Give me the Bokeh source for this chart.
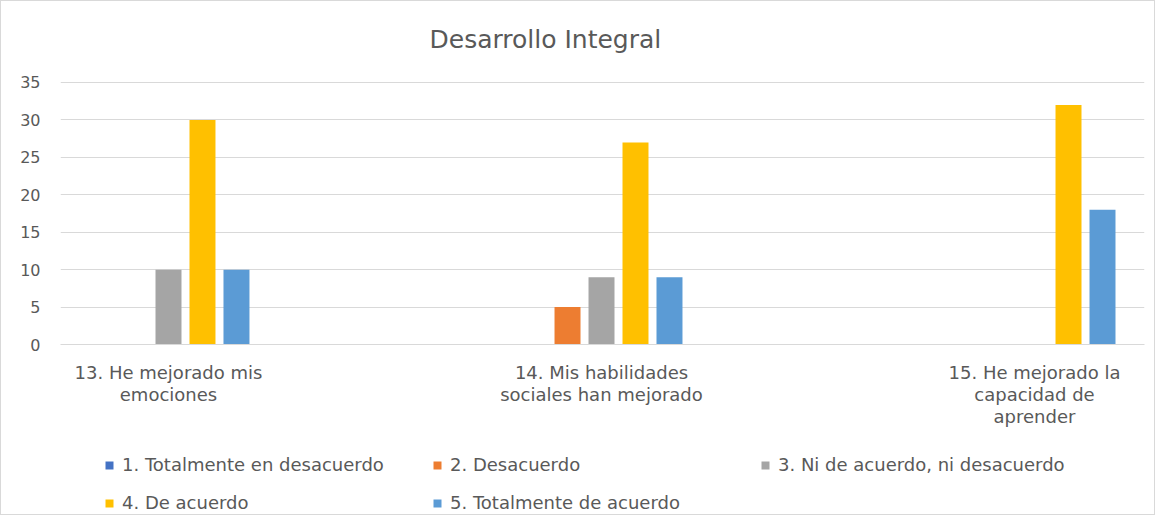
import numpy as np
from bokeh.plotting import figure
from bokeh.layouts import column
from bokeh.models import Range1d, FixedTicker, Legend, LegendItem
from bokeh.embed import file_html
from bokeh.resources import INLINE

title = "Desarrollo Integral"
categories = [
    "13. He mejorado mis\nemociones",
    "14. Mis habilidades\nsociales han mejorado",
    "15. He mejorado la\ncapacidad de\naprender",
]
series_names = [
    "1. Totalmente en desacuerdo",
    "2. Desacuerdo",
    "3. Ni de acuerdo, ni desacuerdo",
    "4. De acuerdo",
    "5. Totalmente de acuerdo",
]
s1_totalmente_desacuerdo = [0, 0, 0]
s2_desacuerdo = [0, 5, 0]
s3_ni_ni = [10, 9, 0]
s4_de_acuerdo = [30, 27, 32]
s5_totalmente_acuerdo = [10, 9, 18]
colors = ["#4472C4", "#ED7D31", "#A5A5A5", "#FFC000", "#5B9BD5"]
y_ticks = [0, 5, 10, 15, 20, 25, 30, 35]

FONT = "DejaVu Sans"
TXT = "#595959"
W = 1153
H1 = 441
H2 = 72

# ---------------- main chart ----------------
p = figure(
    width=W, height=H1,
    x_range=Range1d(-0.2494, 2.254), y_range=Range1d(0, 35 + 7 / 7.486),
    output_backend="svg", toolbar_location=None,
    min_border_left=59, min_border_right=10, min_border_top=74, min_border_bottom=H1 - 343,
)
p.outline_line_color = None
p.background_fill_color = "white"
p.border_fill_color = "white"

series = [s1_totalmente_desacuerdo, s2_desacuerdo, s3_ni_ni, s4_de_acuerdo, s5_totalmente_acuerdo]
cat_pos = np.arange(len(categories), dtype=float)
pitch = 0.0785
bar_w = 0.06
for k, vals in enumerate(series):
    xs = cat_pos + (k - 2) * pitch
    p.vbar(x=xs, top=vals, width=bar_w, fill_color=colors[k], line_color=None)

# title
p.title.text = title
p.title.align = "left"
p.title.offset = 369
p.title.standoff = 43
p.title.text_font = FONT
p.title.text_font_size = "25px"
p.title.text_font_style = "normal"
p.title.text_color = TXT

# axes
p.xgrid.grid_line_color = None
p.ygrid.grid_line_color = "#d9d9d9"
p.ygrid.grid_line_width = 1
p.yaxis.ticker = FixedTicker(ticks=y_ticks)
p.yaxis.axis_line_color = None
p.yaxis.major_tick_line_color = None
p.yaxis.major_tick_out = 0
p.yaxis.minor_tick_line_color = None
p.yaxis.minor_tick_out = 0
p.yaxis.major_label_standoff = 20
p.yaxis.major_label_text_font = FONT
p.yaxis.major_label_text_font_size = "16px"
p.yaxis.major_label_text_color = TXT

p.xaxis.ticker = FixedTicker(ticks=list(cat_pos))
p.xaxis.major_label_overrides = {float(i): c for i, c in enumerate(categories)}
p.xaxis.axis_line_color = "#d9d9d9"
p.xaxis.major_tick_line_color = None
p.xaxis.major_tick_out = 0
p.xaxis.minor_tick_line_color = None
p.xaxis.minor_tick_out = 0
p.xaxis.major_label_standoff = 17
p.xaxis.major_label_text_font = FONT
p.xaxis.major_label_text_font_size = "18px"
p.xaxis.major_label_text_line_height = 1.05
p.xaxis.major_label_text_color = TXT

# ---------------- legend strip ----------------
lf = figure(
    width=W, height=H2, x_range=Range1d(0, W), y_range=Range1d(0, H2),
    output_backend="svg", toolbar_location=None,
    min_border_left=0, min_border_right=0, min_border_top=0, min_border_bottom=0,
)
lf.axis.visible = False
lf.grid.visible = False
lf.outline_line_color = None
lf.background_fill_color = "white"
lf.border_fill_color = "white"
# legend swatches only (zero-height, outside the visible range)
proxies = [lf.vbar(x=[-1000], top=[0], width=1, fill_color=colors[k], line_color=None) for k in range(5)]

rows = [[0, 1, 2], [3, 4]]
row_loc = [(44, 39), (44, 1)]
for row, loc in zip(rows, row_loc):
    lg = Legend(
        items=[LegendItem(label=series_names[k], renderers=[proxies[k]]) for k in row],
        location=loc, orientation="horizontal",
        padding=0, margin=0, spacing=0, border_line_color=None, background_fill_alpha=0,
        glyph_width=10, glyph_height=10, label_standoff=8, label_width=310,
        label_text_font=FONT, label_text_font_size="18px", label_text_color=TXT,
    )
    lf.add_layout(lg, "center")

layout = column(p, lf, spacing=0, styles={"border": "1px solid #d9d9d9", "background": "white"})

open("out.html", "w").write(file_html(layout, INLINE))
